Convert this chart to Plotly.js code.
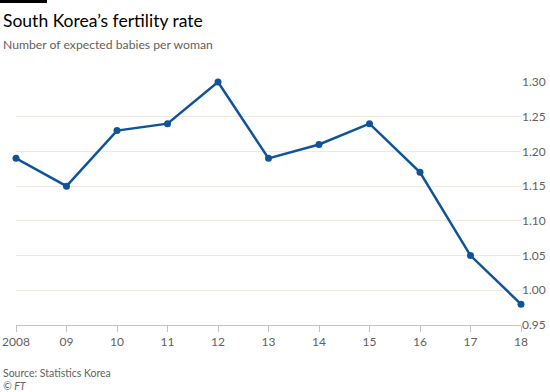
<!DOCTYPE html>
<html>
<head>
<meta charset="utf-8">
<script src="https://cdn.plot.ly/plotly-3.0.1.min.js"></script>
<style>html,body{margin:0;padding:0;background:#fff;}#chart{width:550px;height:392px;}</style>
</head>
<body>
<div id="chart"></div>
<script>
const years = [2008, 2009, 2010, 2011, 2012, 2013, 2014, 2015, 2016, 2017, 2018];
const fertility = [1.19, 1.15, 1.23, 1.24, 1.30, 1.19, 1.21, 1.24, 1.17, 1.05, 0.98];
const xTickLabels = ["2008", "09", "10", "11", "12", "13", "14", "15", "16", "17", "18"];
const yTicks = [0.95, 1.00, 1.05, 1.10, 1.15, 1.20, 1.25, 1.30];
const yTickLabels = ["0.95", "1.00", "1.05", "1.10", "1.15", "1.20", "1.25", "1.30"];

const W = 550, H = 392, L = 16, R = 29, T = 82, B = 67;
const pw = W - L - R, ph = H - T - B;
const px = p => (p - L) / pw;
const py = p => (H - B - p) / ph;
const font = "Lato, 'Open Sans', sans-serif";

const trace = {
  x: years, y: fertility, type: 'scatter', mode: 'lines+markers',
  line: {color: '#0f5499', width: 2.5},
  marker: {color: '#0f5499', size: 7},
  cliponaxis: false, hoverinfo: 'skip'
};

const layout = {
  width: W, height: H,
  margin: {l: L, r: R, t: T, b: B, pad: 0},
  paper_bgcolor: '#ffffff', plot_bgcolor: '#ffffff',
  showlegend: false,
  font: {family: font, color: '#66605c', size: 12},
  xaxis: {
    range: [2008, 2018], tickvals: years, ticktext: xTickLabels,
    showgrid: false, zeroline: false, showline: true, linecolor: '#ccc1b7', linewidth: 1,
    ticks: 'outside', ticklen: 6, tickcolor: '#ccc1b7', tickwidth: 1,
    tickfont: {family: font, size: 12, color: '#66605c'}, fixedrange: true
  },
  yaxis: {
    range: [0.95, 1.30], side: 'right', tickvals: yTicks, ticktext: yTickLabels,
    showgrid: true, gridcolor: '#efe9e3', gridwidth: 1, zeroline: false, showline: false,
    ticks: '', tickfont: {family: font, size: 12, color: '#66605c'}, fixedrange: true
  },
  shapes: [{
    type: 'rect', xref: 'paper', yref: 'paper', xsizemode: 'pixel', ysizemode: 'pixel',
    xanchor: 0, yanchor: 1, x0: -16, x1: 31, y0: 79, y1: 82,
    fillcolor: '#000000', line: {width: 0}
  }],
  annotations: [
    {text: "South Korea’s fertility rate", xref: 'paper', yref: 'paper', x: px(1), y: py(20),
     xanchor: 'left', yanchor: 'middle', showarrow: false, font: {family: font, size: 17.5, color: '#000000'}},
    {text: "Number of expected babies per woman", xref: 'paper', yref: 'paper', x: px(1), y: py(45),
     xanchor: 'left', yanchor: 'middle', showarrow: false, font: {family: font, size: 12.2, color: '#66605c'}},
    {text: "Source: Statistics Korea", xref: 'paper', yref: 'paper', x: px(1), y: py(373),
     xanchor: 'left', yanchor: 'middle', showarrow: false, font: {family: font, size: 10.5, color: '#66605c'}},
    {text: "<i>© FT</i>", xref: 'paper', yref: 'paper', x: px(1), y: py(386),
     xanchor: 'left', yanchor: 'middle', showarrow: false, font: {family: font, size: 10.5, color: '#66605c'}}
  ]
};

Plotly.newPlot('chart', [trace], layout, {staticPlot: true, displayModeBar: false});
</script>
</body>
</html>
